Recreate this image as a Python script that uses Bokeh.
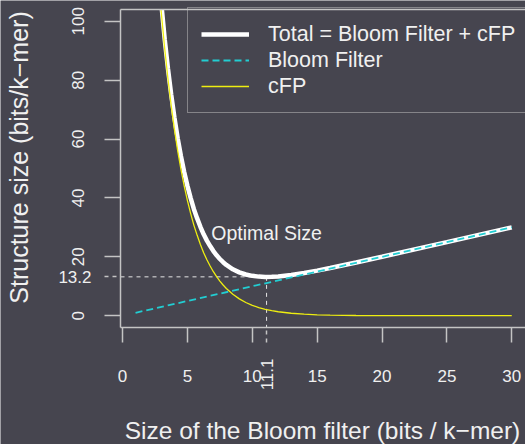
import math
from bokeh.plotting import figure
from bokeh.models import Range1d, LinearAxis, FixedTicker, Label, Legend, LegendItem
from bokeh.embed import file_html
from bokeh.resources import INLINE

# ---------------- data ----------------
# curves as they appear inside the plot box (they enter at its top edge, y = 104)
cfp_x = [2.96, 3, 3.25, 3.5, 3.75, 4, 4.25, 4.5, 4.75, 5, 5.25, 5.5, 5.75,
         6, 6.25, 6.5, 6.75, 7, 7.25, 7.5, 7.75, 8, 8.5, 9, 9.5, 10, 10.5, 11, 11.5,
         12, 13, 14, 15, 16, 18, 20, 25, 30]
cfp_y = [104.0, 102.2, 90.6, 80.4, 71.3, 63.2, 56.0, 49.7, 44.1,
         39.1, 34.7, 30.7, 27.3, 24.2, 21.4, 19.0, 16.9, 14.95, 13.26, 11.76, 10.43,
         9.25, 7.27, 5.72, 4.50, 3.54, 2.78, 2.19, 1.72, 1.35, 0.84, 0.52, 0.32, 0.20,
         0.08, 0.03, 0.00, 0.00]
total_x = [3.03, 3.25, 3.5, 3.75, 4, 4.25, 4.5, 4.75, 5, 5.25, 5.5, 5.75,
           6, 6.25, 6.5, 6.75, 7, 7.25, 7.5, 7.75, 8, 8.5, 9, 9.5, 10, 10.5, 11, 11.5,
           12, 13, 14, 15, 16, 18, 20, 25, 30]
total_y = [104.0, 93.85, 83.9, 75.05, 67.2, 60.25, 54.2,
           48.85, 44.1, 39.95, 36.2, 33.05, 30.2, 27.65, 25.5, 23.65, 21.95, 20.51,
           19.26, 18.18, 17.25, 15.77, 14.72, 14.0, 13.54, 13.28, 13.19, 13.22, 13.35,
           13.84, 14.52, 15.32, 16.2, 18.08, 20.03, 25.0, 30.0]
bloom_x = [1, 30]
bloom_y = [1, 30]
x_ticks = [0, 5, 10, 15, 20, 25, 30]
y_ticks = [0, 20, 40, 60, 80, 100]
opt_x = 11.1
opt_y = 13.2
legend_labels = ["Total = Bloom Filter + cFP", "Bloom Filter", "cFP"]
x_title = "Size of the Bloom filter (bits / k\u2212mer)"
y_title = "Structure size (bits/k\u2212mer)"
note = "Optimal Size"

# ---------------- styling / layout ----------------
BG = "#46454f"
LINE = "#c4c4c4"
TXT = "#f0f0f0"
FONT = "Liberation Sans"
W, H = 525, 444
# plot box (in pixels) and its data limits
BL, BT, BB = 120, 9, 327
X0, X1 = -0.16, 31.06          # box left .. canvas right
Y0, Y1 = -4, 104               # box bottom .. box top
sx = (W - BL) / (X1 - X0)
sy = (BB - BT) / (Y1 - Y0)
XS = X0 - BL / sx              # data x at canvas left
YT = Y1 + BT / sy              # data y at canvas top
YB = Y0 - (H - BB) / sy        # data y at canvas bottom

p = figure(width=W, height=H, output_backend="svg", toolbar_location=None,
           x_range=Range1d(XS, X1), y_range=Range1d(YB, YT),
           x_axis_type=None, y_axis_type=None,
           min_border_left=0, min_border_right=0, min_border_top=0, min_border_bottom=0,
           background_fill_color=BG, border_fill_color=BG, outline_line_color=None)


def px2x(px):
    return XS + px / sx


def px2y(py):
    return YT - py / sy


def make_axis(loc, ticks, orient, standoff, tick_out, bounds, dash="solid", line=True):
    return LinearAxis(fixed_location=loc, bounds=bounds,
                      ticker=FixedTicker(ticks=ticks, minor_ticks=[]),
                      axis_line_color=LINE if line else None, axis_line_width=1.5,
                      major_tick_line_color=LINE, major_tick_line_width=1.5,
                      major_tick_line_dash=dash,
                      major_tick_out=tick_out, major_tick_in=0,
                      minor_tick_line_color=None,
                      major_label_orientation=orient,
                      major_label_standoff=standoff,
                      major_label_text_font=FONT,
                      major_label_text_font_size="17px",
                      major_label_text_color=TXT)


p.add_layout(make_axis(X0, y_ticks, "parallel", 20, 16, (Y0, Y1)), "left")
p.add_layout(make_axis(X0, [opt_y], "horizontal", 13, 16, (Y0, Y1), dash="4 4", line=False), "left")
p.add_layout(make_axis(Y0, x_ticks, "horizontal", 27, 15, (X0, X1)), "below")
p.add_layout(make_axis(Y0, [opt_x], math.pi / 2, 16, 15, (X0, X1), dash="4 4", line=False), "below")
top = make_axis(Y1, [], "horizontal", 0, 0, (X0, X1))
top.major_label_text_font_size = "0px"
p.add_layout(top, "above")

# guide lines to the optimum
p.segment(x0=[X0, opt_x], y0=[opt_y, opt_y], x1=[opt_x, opt_x], y1=[opt_y, Y0],
          line_color="#e6e6e6", line_width=1, line_dash="4 4")

r_total = p.line(total_x, total_y, line_color="white", line_width=4.5)
r_bloom = p.line(bloom_x, bloom_y, line_color="#22cdd2", line_width=1.8, line_dash="7 4")
r_cfp = p.line(cfp_x, cfp_y, line_color="#eeee10", line_width=1.3)

legend = Legend(items=[LegendItem(label=legend_labels[0], renderers=[r_total]),
                       LegendItem(label=legend_labels[1], renderers=[r_bloom]),
                       LegendItem(label=legend_labels[2], renderers=[r_cfp])],
                location=(187, H - 113), orientation="vertical",
                padding=13, spacing=0, margin=0,
                glyph_width=48, glyph_height=26, label_height=26, label_standoff=19,
                label_text_font=FONT, label_text_font_size="21.5px",
                label_text_color=TXT,
                border_line_color=LINE, border_line_width=1.5,
                background_fill_alpha=0)
p.add_layout(legend)

p.add_layout(Label(x=opt_x, y=px2y(232), text=note, text_align="center",
                   text_baseline="middle", text_font=FONT, text_font_size="19.5px",
                   text_color=TXT))
p.add_layout(Label(x=px2x(322), y=px2y(430), text=x_title, text_align="center",
                   text_baseline="middle", text_font=FONT, text_font_size="24.5px",
                   text_color=TXT))
p.add_layout(Label(x=px2x(18), y=px2y(157), text=y_title, angle=math.pi / 2,
                   text_align="center", text_baseline="middle", text_font=FONT,
                   text_font_size="25px", text_color=TXT))

open("out.html", "w").write(file_html(p, INLINE))
